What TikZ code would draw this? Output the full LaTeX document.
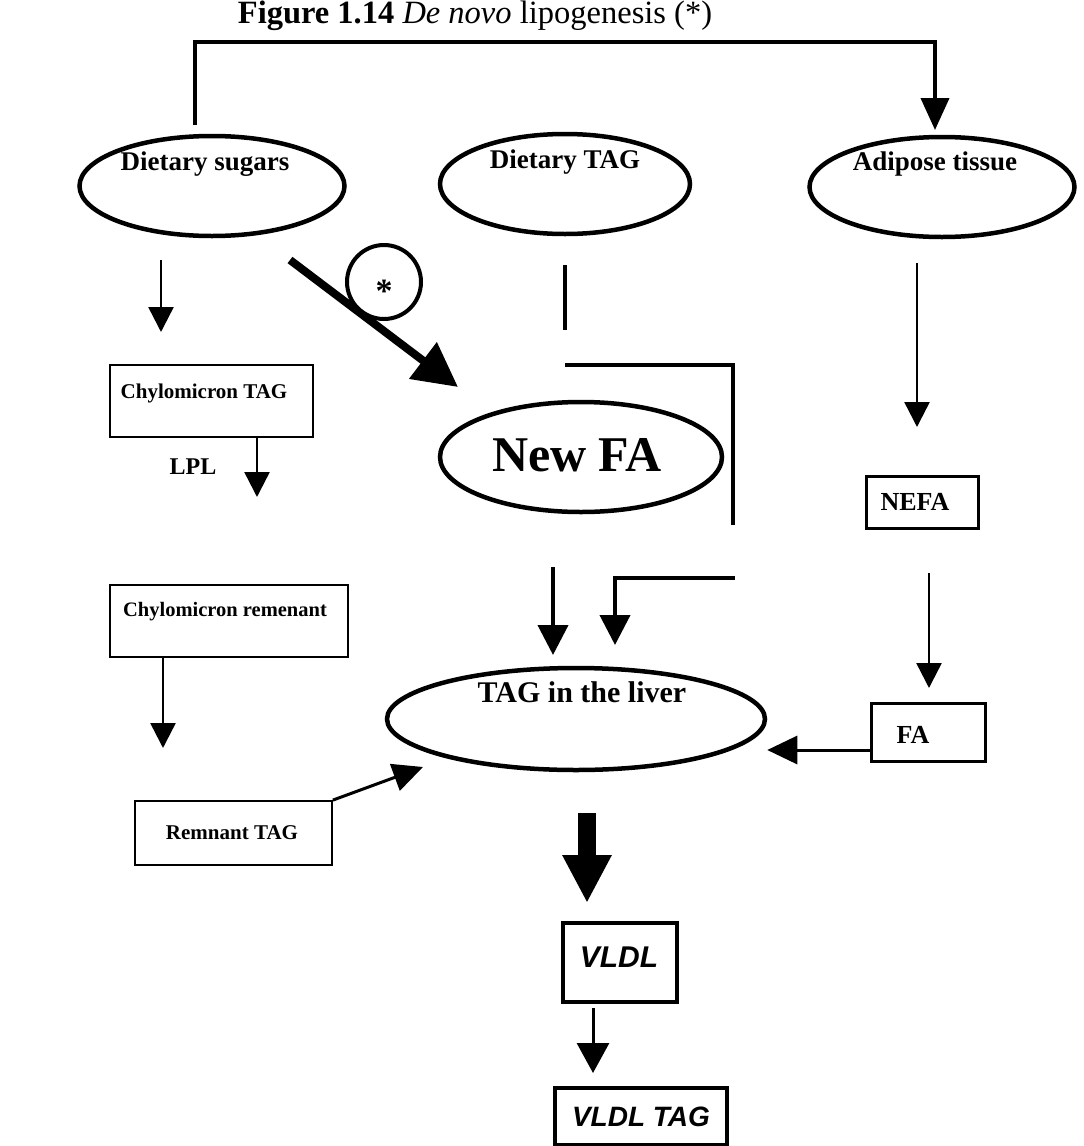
\documentclass[tikz,border=0pt]{standalone}
\usepackage{fontspec}
\setmainfont{Liberation Serif}
\setsansfont{Liberation Sans}
\usetikzlibrary{arrows.meta,shapes.geometric}

\begin{document}
\begin{tikzpicture}[x=1pt,y=-1pt,
  oval/.style={draw,ellipse,line width=4.5pt,inner sep=0pt},
  ovaltext/.style={font=\bfseries\fontsize{27}{30}\selectfont,inner sep=0pt},
  thinbox/.style={draw,rectangle,line width=1.8pt,inner sep=0pt},
  midbox/.style={draw,rectangle,line width=3pt,inner sep=0pt},
  boldbox/.style={draw,rectangle,line width=4pt,inner sep=0pt},
  boxtext/.style={font=\bfseries\fontsize{21}{24}\selectfont,inner sep=0pt},
  sanstext/.style={font=\sffamily\bfseries\itshape\fontsize{30}{34}\selectfont,inner sep=0pt},
  arr/.style={line width=2.5pt,-{Triangle[length=25pt,width=25pt]}},
  midarr/.style={line width=4pt,-{Triangle[length=30pt,width=30pt]}},
  bar/.style={line width=4.5pt},
]
\useasboundingbox[fill=white] (0,0) rectangle (1084,1146);

% heading
\node[inner sep=0pt,font=\fontsize{32.5}{35}\selectfont] (title) at (475,16)
  {\textbf{Figure 1.14} \textit{De novo} lipogenesis (*)};

% sources
\node[oval,minimum width=265,minimum height=100] (sugars) at (212,186) {};
\node[ovaltext] (sugarsT) at (205,164) {Dietary sugars};
\node[oval,minimum width=250,minimum height=100] (dtag) at (565,184) {};
\node[ovaltext] (dtagT) at (565,162) {Dietary TAG};
\node[oval,minimum width=265,minimum height=100] (adipose) at (942,187) {};
\node[ovaltext] (adiposeT) at (935,164) {Adipose tissue};

% de novo path around the top
\coordinate (loopA) at (195,125);
\coordinate (loopB) at (935,130);
\draw[line width=4pt,-{Triangle[length=32pt,width=28pt]}] (loopA) -- ++(0,-83) -| (loopB);

% chylomicron branch
\node[thinbox,minimum width=203,minimum height=72] (chylo) at (211.5,401) {};
\node[boxtext] (chyloT) at (204,393) {Chylomicron TAG};
\node[boxtext,font=\bfseries\fontsize{24}{28}\selectfont] (lpl) at (193,467) {LPL};
\node[thinbox,minimum width=238,minimum height=72] (remn) at (229,621) {};
\node[boxtext,font=\bfseries\fontsize{20.5}{24}\selectfont] (remnT) at (225,612) {Chylomicron remenant};
\node[thinbox,minimum width=197,minimum height=64] (rtag) at (233.5,833) {};
\node[boxtext] (rtagT) at (232,833) {Remnant TAG};

\coordinate (a1s) at (161,260);
\coordinate (a1e) at (161,332);
\draw[arr] (a1s) -- (a1e);
\coordinate (a2s) at (257,438);
\coordinate (a2e) at (257,497);
\draw[arr] (a2s) -- (a2e);
\coordinate (a3e) at (163,748);
\draw[arr] (remn.south -| a3e) -- (a3e);

% new fatty acids
\node[oval,minimum width=282,minimum height=110] (newfa) at (581,457) {};
\node[inner sep=0pt,font=\bfseries\fontsize{50}{52}\selectfont] (newfaT) at (577,455) {New FA};
\node[circle,draw,line width=4pt,minimum size=74,inner sep=0pt] (star) at (384,282) {};
\node[inner sep=0pt,font=\bfseries\fontsize{34}{34}\selectfont] (starT) at (384,291) {*};
\coordinate (dA) at (290,260);
\coordinate (dB) at (458,387);
\draw[line width=8pt,-{Triangle[length=44pt,width=44pt]}] (dA) -- (dB);

% dietary TAG route
\coordinate (tagA) at (565,265);
\coordinate (tagB) at (565,330);
\draw[bar] (tagA) -- (tagB);
\coordinate (brA) at (565,365);
\coordinate (brB) at (733,525);
\draw[bar] (brA) -| (brB);

% inputs to the liver
\coordinate (inA) at (553,567);
\coordinate (inB) at (553,655);
\draw[midarr] (inA) -- (inB);
\coordinate (inC) at (735,578);
\coordinate (inD) at (615,645);
\draw[midarr] (inC) -| (inD);

\node[oval,minimum width=378,minimum height=102] (liver) at (576,719) {};
\node[ovaltext,font=\bfseries\fontsize{30}{32}\selectfont] (liverT) at (582,692) {TAG in the liver};

% adipose branch
\node[midbox,minimum width=112,minimum height=52] (nefa) at (922,502) {};
\node[ovaltext,font=\bfseries\fontsize{26}{28}\selectfont] (nefaT) at (915,502) {NEFA};
\node[midbox,minimum width=114,minimum height=58] (fa) at (928,732) {};
\node[ovaltext,font=\bfseries\fontsize{26}{28}\selectfont] (faT) at (913,735) {FA};
\coordinate (b1s) at (917,263);
\coordinate (b1e) at (917,427);
\draw[arr] (b1s) -- (b1e);
\coordinate (b2s) at (929,573);
\coordinate (b2e) at (929,688);
\draw[arr] (b2s) -- (b2e);
\draw[arr,line width=3pt,-{Triangle[length=30pt,width=28pt]}] (fa.west |- 0,750) -- (liver.east |- 0,750);

\coordinate (rtagTip) at (423,767);
\draw[arr,line width=3pt,-{Triangle[length=30pt,width=28pt]}] (rtag.north east) -- (rtagTip);

% export
\node[boldbox,minimum width=114,minimum height=79] (vldl) at (620,962.5) {};
\node[sanstext] (vldlT) at (619,957) {VLDL};
\node[boldbox,minimum width=172,minimum height=57] (vtag) at (641,1116.5) {};
\node[sanstext,font=\sffamily\bfseries\itshape\fontsize{28}{32}\selectfont] (vtagT) at (641,1117) {VLDL TAG};
\coordinate (c1s) at (587,813);
\coordinate (c1e) at (587,903);
\draw[line width=18pt,-{Triangle[length=48pt,width=46pt]}] (c1s) -- (c1e);
\coordinate (c2s) at (593,1008);
\coordinate (c2e) at (593,1073);
\draw[arr,line width=3pt,-{Triangle[length=30pt,width=32pt]}] (c2s) -- (c2e);
\end{tikzpicture}
\end{document}
